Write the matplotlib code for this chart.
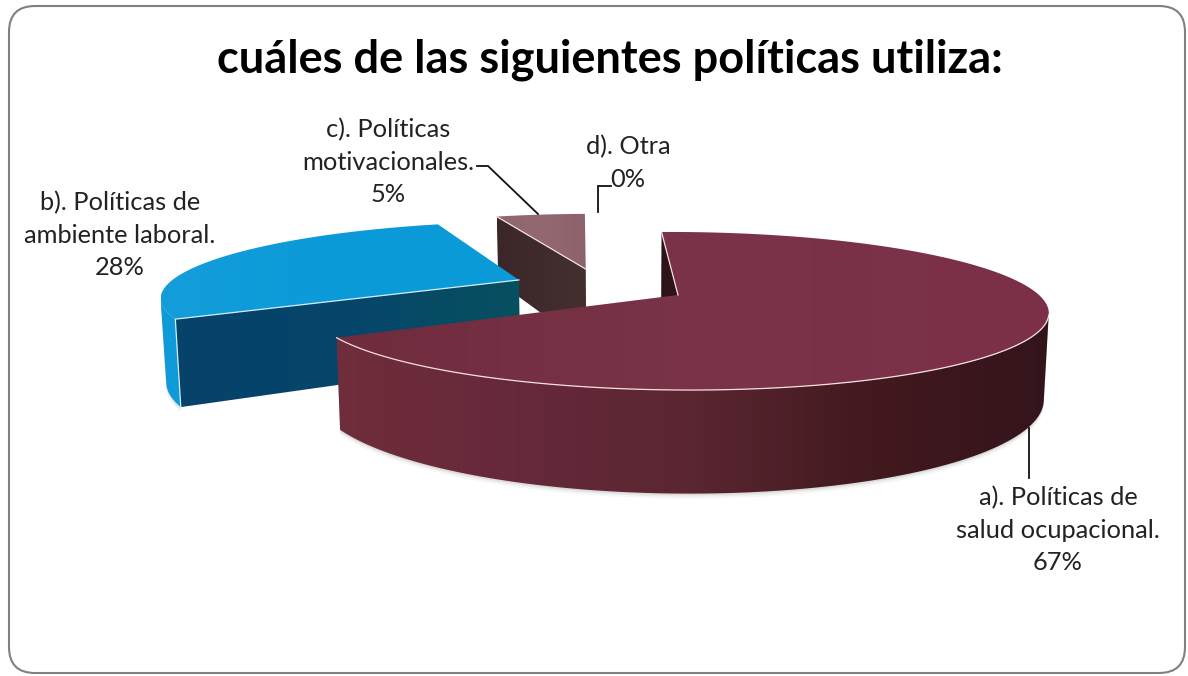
import numpy as np
from matplotlib import pyplot as plt
from matplotlib.colors import LinearSegmentedColormap
from matplotlib.patches import FancyBboxPatch, Polygon

# chart data
title = 'cuáles de las siguientes políticas utiliza:'
names = ['a). Políticas de\nsalud ocupacional.', 'b). Políticas de\nambiente laboral.',
         'c). Políticas\nmotivacionales.', 'd). Otra']
percent = [67, 28, 5, 0]

# label centres, in pixels
label_x = [1058, 120, 388, 628]
label_y = [530, 235, 162, 163]

# leader lines
leaders = [[(1029, 428), (1029, 478)],
           [],
           [(477, 166), (488, 166), (538, 214)],
           [(598, 212), (598, 186), (611, 186)]]

# look of each slice: top face, outer wall, cut wall
top_colors = [['#6f2c3d', '#7a3348', '#7c3049'], ['#149dda', '#0b9ad8', '#0b9ad8'], ['#8f6670', '#94686f', '#8d626c']]
rim_colors = [['#702d3b', '#66293a', '#5a2631', '#42191f', '#34141b'], ['#0f9ad9', '#0f9ad9'], ['#402c2e', '#402c2e']]
cut_colors = [['#2e1417', '#2e1417'], ['#07426a', '#06456b', '#07505f'], ['#3b2729', '#44302f']]

# pie geometry
CX, CY = 678, 295
RX, RY = 361, 75.8
PERSP = 0.2025
VANISH = 48
DEPTH = 82.6
SHRINK = 0.012
EXPLODE = 0.25
START = -1.6

fig = plt.figure(figsize=(11.88, 6.76), dpi=100)
ax = fig.add_axes([0, 0, 1, 1])
ax.set_xlim(0, 1188)
ax.set_ylim(676, 0)
ax.axis('off')
plt.rcParams['font.family'] = ['Lato', 'DejaVu Sans']


def project(x, y, z=0.0):
    d = 1 + PERSP * y
    # the vanishing point sits left of the reference point
    sx = (RX * x + VANISH) / d * (1 - SHRINK * z) - VANISH
    sy = -RY * y / d + z * DEPTH / d
    return CX + sx, CY + sy


def fill_gradient(pts, colors, zorder):
    # horizontal gradient clipped to a polygon
    pts = np.array(pts)
    cmap = LinearSegmentedColormap.from_list('face', colors)
    grad = np.linspace(0, 1, 256).reshape(1, -1)
    box = (pts[:, 0].min(), pts[:, 0].max(), pts[:, 1].max(), pts[:, 1].min())
    im = ax.imshow(grad, cmap=cmap, extent=box, aspect='auto', zorder=zorder, interpolation='bilinear')
    patch = Polygon(pts, closed=True, transform=ax.transData, fc='none', ec='none')
    ax.add_patch(patch)
    im.set_clip_path(patch)


def direction(deg):
    return np.array([np.sin(np.radians(deg)), np.cos(np.radians(deg))])


spans = np.array(percent) * 3.6
starts = START + np.concatenate([[0], np.cumsum(spans)[:-1]])
mids = starts + spans / 2
# the largest slice stays at the reference point, the others move relative to it
offsets = [EXPLODE * (direction(m) - direction(mids[0])) for m in mids]

# back to front: c, b, a
z = 3
for i in [2, 1, 0]:
    if percent[i] == 0:
        continue
    ang = np.linspace(starts[i], starts[i] + spans[i], 160)
    ox, oy = offsets[i]
    rim_x = ox + np.sin(np.radians(ang))
    rim_y = oy + np.cos(np.radians(ang))
    top_rim = [project(a, b) for a, b in zip(rim_x, rim_y)]
    low_rim = [project(a, b, 1) for a, b in zip(rim_x, rim_y)]
    apex = project(ox, oy)
    apex_low = project(ox, oy, 1)

    # only the part of the rim that turns towards the viewer gets a wall
    facing = np.gradient([p[0] for p in top_rim]) < 0
    front_top = [p for p, f in zip(top_rim, facing) if f]
    front_low = [p for p, f in zip(low_rim, facing) if f]

    if front_top:
        # soft shadow under the outer wall
        for grow, alpha in [(5, 0.05), (3, 0.07), (1.5, 0.10)]:
            ax.add_patch(Polygon([(p[0], p[1] + grow) for p in front_low] + front_top[::-1],
                                 closed=True, fc='#555555', ec='none', alpha=alpha, zorder=z))
        z += 1
        fill_gradient(front_top + front_low[::-1], rim_colors[i], z)
        z += 1
    fill_gradient([top_rim[0], apex, apex_low, low_rim[0]], cut_colors[i], z)
    z += 1
    fill_gradient([apex] + top_rim, top_colors[i], z)
    z += 1

    # thin light edges
    edge = '#f6dfe2' if i != 1 else '#cfeefa'
    if i == 0:
        xs, ys = zip(*front_top)
        ax.plot(xs, ys, color=edge, lw=0.9, zorder=z)
        ax.plot([top_rim[0][0], apex[0]], [top_rim[0][1], apex[1]], color=edge, lw=0.9, zorder=z)
    elif i == 1:
        ax.plot([apex[0], top_rim[0][0], low_rim[0][0]], [apex[1], top_rim[0][1], low_rim[0][1]],
                color=edge, lw=0.9, zorder=z)
    else:
        ax.plot([apex[0], top_rim[0][0]], [apex[1], top_rim[0][1]], color=edge, lw=0.9, zorder=z)
    z += 1

for line in leaders:
    if line:
        xs, ys = zip(*line)
        ax.plot(xs, ys, color='#111111', lw=1.3, zorder=z, solid_joinstyle='miter')

for i in range(4):
    txt = names[i] + '\n' + str(percent[i]) + '%'
    ax.text(label_x[i], label_y[i], txt, ha='center', va='center', fontsize=18.3,
            color='#222222', linespacing=1.5, zorder=z)

ax.text(610, 60, title, ha='center', va='center', fontsize=32.5, fontweight='bold', color='black', zorder=z)

# chart area outline with rounded corners
ax.add_patch(FancyBboxPatch((9, 6), 1176, 667, boxstyle='round,pad=0,rounding_size=26',
                            fc='none', ec='#808080', lw=1.5, zorder=z))

fig.savefig('out.png', dpi=100)
